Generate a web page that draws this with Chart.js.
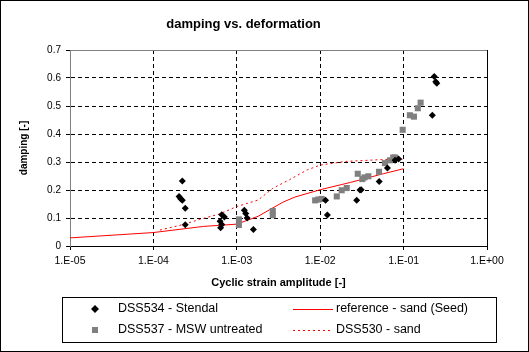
<!DOCTYPE html>
<html>
<head>
<meta charset="utf-8">
<title>damping vs. deformation</title>
<script src="https://cdn.jsdelivr.net/npm/chart.js@4.4.1/dist/chart.umd.min.js"></script>
<style>
  body { margin: 0; background: #fff; }
  #wrap { width: 529px; height: 352px; }
</style>
</head>
<body>
<div id="wrap"><canvas id="dampChart" width="529" height="352"></canvas></div>
<script>
// DSS534 - Stendal (black diamonds)
const stendalX = [2.22e-4, 2.03e-4, 2.12e-4, 2.22e-4, 2.41e-4, 2.41e-4,
                  6.6e-4, 7.1e-4, 6.3e-4, 6.6e-4, 6.4e-4,
                  1.23e-3, 1.28e-3, 1.33e-3, 1.58e-3,
                  1.16e-2, 1.22e-2, 2.74e-2, 3.0e-2, 3.1e-2, 5.1e-2, 6.4e-2, 7.9e-2, 8.7e-2,
                  0.233, 0.243, 0.25, 0.221];
const stendalY = [0.232, 0.177, 0.169, 0.163, 0.135, 0.076,
                  0.112, 0.104, 0.088, 0.077, 0.065,
                  0.128, 0.116, 0.100, 0.059,
                  0.163, 0.111, 0.163, 0.200, 0.201, 0.230, 0.279, 0.306, 0.311,
                  0.605, 0.587, 0.581, 0.467];

// DSS537 - MSW untreated (grey squares)
const mswX = [1.06e-3, 1.06e-3, 2.7e-3, 2.7e-3,
              8.7e-3, 9.5e-3, 1.04e-2, 1.58e-2, 1.81e-2, 2.08e-2,
              2.82e-2, 3.2e-2, 3.4e-2, 3.78e-2, 5.07e-2, 5.98e-2, 6.87e-2, 7.5e-2, 7.9e-2,
              9.75e-2, 0.119, 0.133, 0.148, 0.16];
const mswY = [0.095, 0.075, 0.125, 0.110,
              0.163, 0.166, 0.168, 0.177, 0.199, 0.207,
              0.258, 0.239, 0.245, 0.249, 0.265, 0.296, 0.306, 0.316, 0.316,
              0.415, 0.467, 0.462, 0.492, 0.512];

// reference - sand (Seed)
const seedX = [1e-5, 1e-4, 4e-4, 1e-3, 1.8e-3, 3.6e-3, 5e-3, 1e-2, 2.3e-2, 5.7e-2, 1e-1];
const seedY = [0.029, 0.048, 0.070, 0.078, 0.106, 0.157, 0.175, 0.201, 0.227, 0.258, 0.276];

// DSS530 - sand
const sandX = [1.2e-4, 2.3e-4, 3.6e-4, 6.3e-4, 1e-3, 1.8e-3, 2.7e-3, 4.3e-3, 7e-3, 1e-2, 2e-2, 5e-2, 1e-1];
const sandY = [0.057, 0.077, 0.095, 0.115, 0.141, 0.164, 0.206, 0.237, 0.272, 0.289, 0.302, 0.308, 0.310];

const xTicks = [1e-5, 1e-4, 1e-3, 1e-2, 1e-1, 1];
const xTickLabels = ['1.E-05', '1.E-04', '1.E-03', '1.E-02', '1.E-01', '1.E+00'];
const yTickLabels = ['0', '0.1', '0.2', '0.3', '0.4', '0.5', '0.6', '0.7'];

const seriesNames = ['DSS534 - Stendal', 'DSS537 - MSW untreated', 'reference - sand (Seed)', 'DSS530 - sand'];

function pts(xs, ys) {
    return xs.map((x, i) => ({ x: x, y: ys[i] }));
}

const FONT = "'Liberation Sans', Arial, sans-serif";
Chart.defaults.font.family = FONT;
Chart.defaults.color = '#000';

const hidden = 'rgba(0,0,0,0)';

// white background, outer frame, top/right plot border
const frame = {
    id: 'frame',
    beforeDraw(chart) {
        const c = chart.ctx;
        c.save();
        c.fillStyle = '#fff';
        c.fillRect(0, 0, chart.width, chart.height);
        c.restore();
    },
    afterDraw(chart) {
        const c = chart.ctx;
        const a = chart.chartArea;
        c.save();
        c.lineWidth = 1;
        c.strokeStyle = '#808080';
        c.beginPath();
        c.moveTo(a.left, a.top + 0.5);
        c.lineTo(a.right, a.top + 0.5);
        c.stroke();
        c.strokeStyle = '#000';
        c.beginPath();
        c.moveTo(a.right + 0.5, a.top);
        c.lineTo(a.right + 0.5, a.bottom);
        c.stroke();
        c.strokeRect(0.5, 0.5, chart.width - 1, chart.height - 1);
        c.restore();
    }
};

// boxed two-column legend under the axis
const legendBox = {
    id: 'legendBox',
    afterDraw(chart) {
        const c = chart.ctx;
        const ds = chart.data.datasets;
        c.save();
        c.strokeStyle = '#000';
        c.lineWidth = 1;
        c.strokeRect(62.5, 297.5, 434, 45);

        // diamond
        c.fillStyle = ds[0].backgroundColor;
        c.beginPath();
        c.moveTo(95, 305);
        c.lineTo(99, 309);
        c.lineTo(95, 313);
        c.lineTo(91, 309);
        c.closePath();
        c.fill();

        // square
        c.fillStyle = ds[1].backgroundColor;
        c.fillRect(92, 327, 6, 6);

        // lines
        c.strokeStyle = ds[2].borderColor;
        c.beginPath();
        c.moveTo(293, 309.5);
        c.lineTo(333, 309.5);
        c.stroke();
        c.strokeStyle = ds[3].borderColor;
        c.setLineDash(ds[3].borderDash);
        c.beginPath();
        c.moveTo(293, 330.5);
        c.lineTo(333, 330.5);
        c.stroke();
        c.setLineDash([]);

        c.fillStyle = '#000';
        c.font = '12.5px ' + FONT;
        c.textBaseline = 'middle';
        c.fillText(ds[0].label, 118, 309);
        c.fillText(ds[1].label, 118, 330);
        c.fillText(ds[2].label, 336, 309);
        c.fillText(ds[3].label, 336, 330);
        c.restore();
    }
};

const ctx = document.getElementById('dampChart').getContext('2d');
const dampChart = new Chart(ctx, {
    type: 'scatter',
    data: {
        datasets: [{
            label: seriesNames[0],
            data: pts(stendalX, stendalY),
            pointStyle: 'rectRot',
            pointRadius: 3.5,
            pointBorderWidth: 0,
            backgroundColor: '#000',
            borderColor: '#000'
        }, {
            label: seriesNames[1],
            data: pts(mswX, mswY),
            pointStyle: 'rect',
            pointRadius: 4.3,
            pointBorderWidth: 0,
            backgroundColor: '#808080',
            borderColor: '#808080'
        }, {
            label: seriesNames[2],
            data: pts(seedX, seedY),
            showLine: true,
            pointRadius: 0,
            borderWidth: 1,
            borderColor: '#ff0000',
            backgroundColor: '#ff0000'
        }, {
            label: seriesNames[3],
            data: pts(sandX, sandY),
            showLine: true,
            pointRadius: 0,
            borderWidth: 1,
            borderDash: [2, 3],
            borderColor: '#ff0000',
            backgroundColor: '#ff0000'
        }]
    },
    options: {
        responsive: false,
        animation: false,
        events: [],
        layout: { padding: { top: 0, left: 0, right: 42, bottom: 60 } },
        plugins: {
            legend: { display: false },
            tooltip: { enabled: false },
            title: {
                display: true,
                text: 'damping vs. deformation',
                font: { size: 13, weight: 'bold' },
                padding: { top: 16.2, bottom: 18.2 }
            }
        },
        scales: {
            x: {
                type: 'logarithmic',
                min: 1e-5,
                max: 1,
                afterBuildTicks: axis => { axis.ticks = xTicks.map(v => ({ value: v })); },
                afterFit: axis => { axis.height = 46; },
                ticks: {
                    autoSkip: false,
                    maxRotation: 0,
                    padding: 5,
                    font: { size: 10.5 },
                    callback: (v, i) => xTickLabels[i]
                },
                grid: {
                    color: c => (c.index === 0 || c.index === xTicks.length - 1) ? hidden : '#000',
                    tickColor: '#000',
                    tickLength: 4
                },
                border: { color: '#000', width: 1, dash: [4, 3] },
                title: {
                    display: true,
                    text: 'Cyclic strain amplitude [-]',
                    font: { size: 11, weight: 'bold' },
                    padding: { top: 0, bottom: 2.4 }
                }
            },
            y: {
                min: 0,
                max: 0.7,
                afterFit: axis => { axis.width = 70; },
                ticks: {
                    stepSize: 0.1,
                    padding: 5,
                    font: { size: 10 },
                    callback: (v, i) => yTickLabels[i]
                },
                grid: {
                    color: c => (c.index === 0 || c.index === yTickLabels.length - 1) ? hidden : '#000',
                    tickColor: '#000',
                    tickLength: 4
                },
                border: { color: '#808080', width: 1, dash: [4, 3] },
                title: {
                    display: true,
                    text: 'damping [-]',
                    font: { size: 10, weight: 'bold' },
                    padding: { top: 18, bottom: 0 }
                }
            }
        }
    },
    plugins: [frame, legendBox]
});
</script>
</body>
</html>
